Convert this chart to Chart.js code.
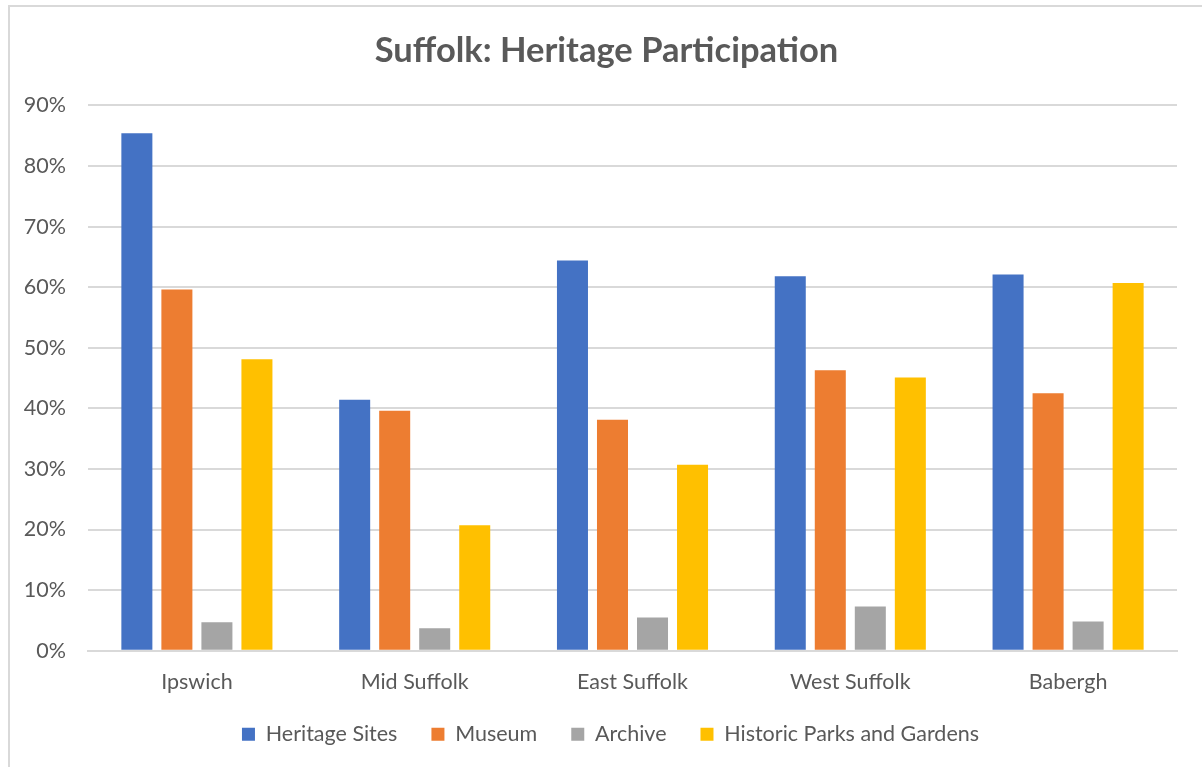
<!DOCTYPE html>
<html>
<head>
<meta charset="utf-8">
<title>Suffolk: Heritage Participation</title>
<script src="https://cdn.jsdelivr.net/npm/chart.js@4"></script>
<style>
    html, body { margin: 0; padding: 0; background: #fff; overflow: hidden; }
    #frame {
        position: absolute; left: 8px; top: 5px;
        width: 1400px; height: 1000px;
        border: 2px solid #d9d9d9; box-sizing: border-box;
    }
    #wrap { position: absolute; left: 0; top: 0; width: 1202px; height: 770px; }
</style>
</head>
<body>
<div id="frame"></div>
<div id="wrap"><canvas id="heritageChart" width="1202" height="770"></canvas></div>
<script>
// Heritage participation by district (percent of residents)
const districts = ['Ipswich', 'Mid Suffolk', 'East Suffolk', 'West Suffolk', 'Babergh'];
const heritageSites = [85.4, 41.4, 64.4, 61.8, 62.1];
const museum = [59.6, 39.6, 38.1, 46.3, 42.5];
const archive = [4.7, 3.7, 5.5, 7.3, 4.8];
const parksGardens = [48.1, 20.7, 30.7, 45.1, 60.7];

const seriesNames = ['Heritage Sites', 'Museum', 'Archive', 'Historic Parks and Gardens'];
const seriesColours = ['#4472C4', '#ED7D31', '#A5A5A5', '#FFC000'];
const seriesValues = [heritageSites, museum, archive, parksGardens];

const textColour = '#595959';
const gridColour = '#d9d9d9';
const fontFamily = 'Lato, "Open Sans", sans-serif';

// keep wide gaps between legend entries but sit the row closer to the axis labels,
// and centre title and legend on the whole frame rather than the padded box
const nudgeBoxes = {
    id: 'nudgeBoxes',
    afterLayout(chart) {
        const lg = chart.legend;
        if (lg) {
            lg.top -= 15; lg.bottom -= 15;
            lg.left += 12; lg.right += 12;
        }
        const tt = chart.titleBlock;
        if (tt) {
            tt.left += 8; tt.right += 8;
        }
    }
};

const ctx = document.getElementById('heritageChart');
new Chart(ctx, {
    type: 'bar',
    data: {
        labels: districts,
        datasets: seriesNames.map((name, i) => ({
            label: name,
            data: seriesValues[i],
            backgroundColor: seriesColours[i],
            borderWidth: 0,
            categoryPercentage: 0.735,
            barPercentage: 0.775
        }))
    },
    plugins: [nudgeBoxes],
    options: {
        responsive: false,
        animation: false,
        layout: { padding: { top: 20, left: 20, right: 25, bottom: 0 } },
        plugins: {
            title: {
                display: true,
                text: 'Suffolk: Heritage Participation',
                color: textColour,
                font: { family: fontFamily, size: 34.5, weight: 'bold' },
                padding: { top: 10, bottom: 34 }
            },
            legend: {
                position: 'bottom',
                labels: {
                    color: textColour,
                    font: { family: fontFamily, size: 21.5 },
                    boxWidth: 13,
                    boxHeight: 13,
                    padding: 34
                }
            },
            tooltip: { enabled: false }
        },
        scales: {
            x: {
                grid: { display: false },
                border: { color: gridColour, width: 2 },
                ticks: {
                    color: textColour,
                    font: { family: fontFamily, size: 21.5 },
                    padding: 10
                }
            },
            y: {
                min: 0,
                max: 90,
                afterFit: (scale) => { scale.width = 68; },
                grid: { color: gridColour, lineWidth: 2, drawTicks: false },
                border: { display: false },
                ticks: {
                    stepSize: 10,
                    color: textColour,
                    font: { family: fontFamily, size: 21.5 },
                    padding: 22,
                    callback: (v) => v + '%'
                }
            }
        }
    }
});
</script>
</body>
</html>
